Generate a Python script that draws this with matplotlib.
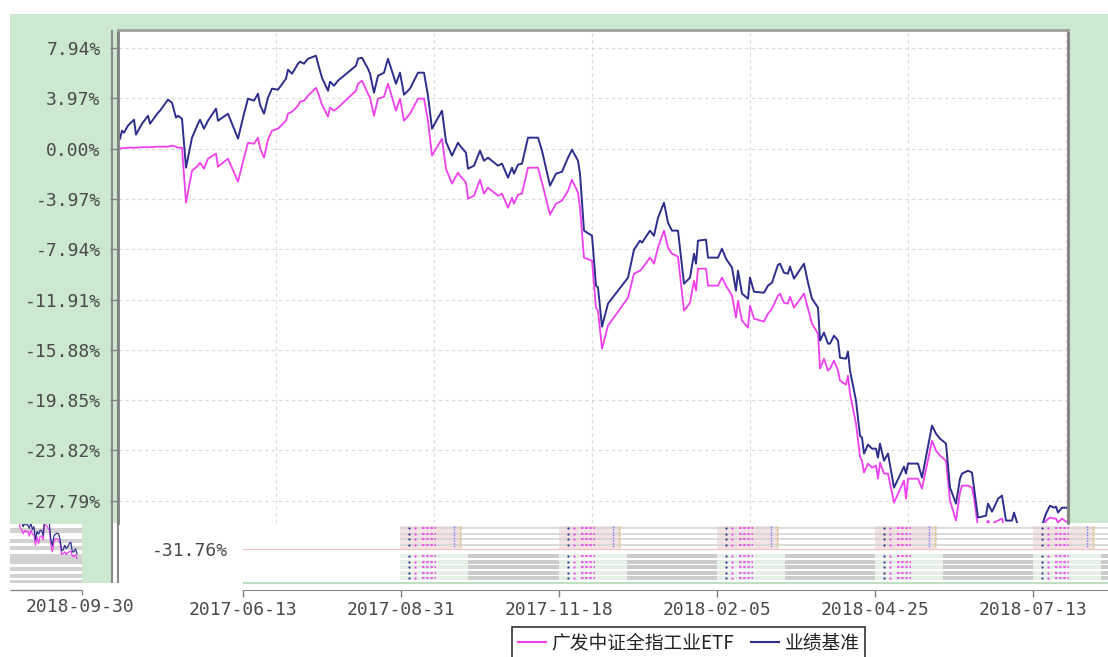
import matplotlib
matplotlib.use("Agg")
import matplotlib.pyplot as plt
import matplotlib.dates as mdates
from matplotlib.patches import Rectangle
from matplotlib.lines import Line2D
import pandas as pd

plt.rcParams["axes.unicode_minus"] = False

W, H, DPI = 1108, 657, 100

# cumulative return (%), fund vs benchmark
trade_dates = [
    "2017-03-27", "2017-03-28", "2017-03-29", "2017-03-31", "2017-04-03", "2017-04-04", "2017-04-07", "2017-04-10", "2017-04-11", "2017-04-15",
    "2017-04-16", "2017-04-20", "2017-04-22", "2017-04-24", "2017-04-25", "2017-04-27", "2017-04-29", "2017-05-02", "2017-05-05", "2017-05-06",
    "2017-05-08", "2017-05-10", "2017-05-14", "2017-05-15", "2017-05-20", "2017-05-25", "2017-05-28", "2017-05-30", "2017-06-02", "2017-06-04",
    "2017-06-05", "2017-06-07", "2017-06-09", "2017-06-11", "2017-06-14", "2017-06-18", "2017-06-19", "2017-06-21", "2017-06-24", "2017-06-25",
    "2017-06-27", "2017-06-29", "2017-07-03", "2017-07-04", "2017-07-06", "2017-07-09", "2017-07-10", "2017-07-12", "2017-07-14", "2017-07-23",
    "2017-07-24", "2017-07-26", "2017-07-29", "2017-07-30", "2017-08-01", "2017-08-03", "2017-08-06", "2017-08-08", "2017-08-12", "2017-08-14",
    "2017-08-16", "2017-08-19", "2017-08-23", "2017-08-26", "2017-08-28", "2017-08-30", "2017-09-04", "2017-09-06", "2017-09-09", "2017-09-12",
    "2017-09-13", "2017-09-16", "2017-09-17", "2017-09-20", "2017-09-23", "2017-09-25", "2017-09-27", "2017-10-02", "2017-10-04", "2017-10-07",
    "2017-10-09", "2017-10-10", "2017-10-12", "2017-10-14", "2017-10-17", "2017-10-22", "2017-10-24", "2017-10-28", "2017-10-31", "2017-11-03",
    "2017-11-06", "2017-11-08", "2017-11-11", "2017-11-12", "2017-11-14", "2017-11-18", "2017-11-20", "2017-11-21", "2017-11-23", "2017-11-26",
    "2017-12-06", "2017-12-09", "2017-12-12", "2017-12-13", "2017-12-17", "2017-12-19", "2017-12-21", "2017-12-24", "2017-12-26", "2017-12-28",
    "2017-12-31", "2018-01-03", "2018-01-06", "2018-01-08", "2018-01-09", "2018-01-10", "2018-01-14", "2018-01-15", "2018-01-20", "2018-01-22",
    "2018-01-24", "2018-01-27", "2018-01-29", "2018-01-30", "2018-02-01", "2018-02-04", "2018-02-05", "2018-02-07", "2018-02-12", "2018-02-14",
    "2018-02-16", "2018-02-19", "2018-02-20", "2018-02-22", "2018-02-24", "2018-02-25", "2018-02-27", "2018-03-04", "2018-03-06", "2018-03-08",
    "2018-03-11", "2018-03-12", "2018-03-14", "2018-03-16", "2018-03-17", "2018-03-19", "2018-03-21", "2018-03-22", "2018-03-25", "2018-03-26",
    "2018-03-27", "2018-03-30", "2018-04-01", "2018-04-02", "2018-04-03", "2018-04-05", "2018-04-07", "2018-04-09", "2018-04-10", "2018-04-11",
    "2018-04-13", "2018-04-15", "2018-04-18", "2018-04-23", "2018-04-24", "2018-04-25", "2018-04-30", "2018-05-02", "2018-05-07", "2018-05-09",
    "2018-05-11", "2018-05-14", "2018-05-16", "2018-05-19", "2018-05-21", "2018-05-22", "2018-05-25", "2018-05-27", "2018-05-28", "2018-05-30",
    "2018-06-03", "2018-06-04", "2018-06-06", "2018-06-07", "2018-06-09", "2018-06-11", "2018-06-13", "2018-06-16", "2018-06-17", "2018-06-19",
    "2018-06-23", "2018-06-28", "2018-07-01", "2018-07-03", "2018-07-05", "2018-07-07", "2018-07-08", "2018-07-09", "2018-07-11", "2018-07-13",
]

fund_ret = [
    0.00, 0.04, 0.04, 0.08, 0.08, 0.08, 0.12, 0.12, 0.12, 0.16,
    0.16, 0.16, 0.24, 0.16, 0.08, 0.08, -4.26, -1.74, -1.34, -1.11,
    -1.58, -0.79, -0.39, -1.42, -0.79, -2.60, -0.71, 0.47, 0.39, 0.87,
    0.08, -0.71, 0.71, 1.42, 1.58, 2.21, 2.76, 2.92, 3.39, 3.71,
    3.79, 4.18, 4.81, 4.42, 3.47, 2.53, 3.24, 3.00, 3.24, 4.58,
    5.13, 5.37, 4.34, 4.03, 2.60, 3.95, 4.10, 5.13, 3.00, 3.95,
    2.21, 2.76, 3.95, 3.95, 2.21, -0.55, 0.79, -1.58, -2.76, -1.89,
    -2.13, -2.68, -3.95, -3.71, -2.45, -3.55, -3.08, -3.71, -3.55, -4.66,
    -3.87, -4.34, -3.63, -3.55, -1.50, -1.50, -2.68, -5.21, -4.34, -4.10,
    -3.32, -2.45, -3.47, -4.66, -8.60, -8.84, -12.55, -12.79, -15.79, -13.97,
    -11.76, -9.87, -9.63, -9.47, -8.60, -9.08, -7.81, -6.47, -7.81, -8.29,
    -8.52, -12.79, -12.16, -10.42, -11.21, -9.47, -9.47, -10.81, -10.81, -10.18,
    -10.81, -11.60, -13.34, -12.00, -13.58, -14.13, -12.39, -13.42, -13.65, -13.02,
    -12.63, -11.60, -11.44, -12.16, -12.23, -11.68, -12.55, -11.44, -12.63, -13.81,
    -14.60, -17.36, -16.58, -17.52, -17.36, -16.73, -17.52, -18.31, -18.63, -17.92,
    -19.34, -21.71, -24.31, -24.63, -25.57, -24.86, -25.18, -25.02, -26.05, -24.78,
    -25.65, -25.65, -27.94, -26.20, -27.63, -26.05, -26.05, -26.84, -23.05, -23.84,
    -24.23, -24.63, -27.78, -29.36, -27.15, -26.60, -26.60, -26.76, -27.55, -29.91,
    -29.76, -29.36, -29.91, -29.52, -29.36, -29.20, -30.31, -30.31, -29.99, -30.78,
    -31.73, -31.57, -30.55, -29.36, -29.12, -29.20, -29.20, -29.52, -29.20, -29.44,
]

bench_ret = [
    0.79, 1.42, 1.26, 1.82, 2.29, 1.11, 1.97, 2.60, 1.97, 2.84,
    3.00, 3.87, 3.63, 2.45, 2.60, 2.37, -1.50, 0.87, 1.97, 2.29,
    1.58, 2.21, 3.16, 2.21, 2.76, 0.79, 2.76, 3.95, 3.79, 4.34,
    3.47, 2.76, 4.03, 4.74, 4.66, 5.53, 6.24, 5.92, 6.71, 6.87,
    6.71, 7.10, 7.34, 6.71, 5.60, 4.58, 5.29, 4.97, 5.37, 6.55,
    7.10, 7.18, 6.31, 5.92, 4.42, 5.76, 6.00, 7.10, 5.13, 6.00,
    4.26, 4.74, 6.00, 6.00, 4.18, 1.58, 3.00, 0.55, -0.55, 0.47,
    0.24, -0.32, -1.58, -1.34, -0.16, -0.95, -0.71, -1.34, -1.18, -2.29,
    -1.50, -1.97, -1.26, -1.18, 0.87, 0.87, -0.16, -2.92, -1.97, -1.82,
    -0.71, -0.08, -0.95, -1.97, -6.47, -6.87, -10.81, -10.97, -14.05, -12.23,
    -10.18, -7.97, -7.26, -7.42, -6.47, -6.87, -5.45, -4.26, -5.84, -6.47,
    -6.47, -10.66, -10.18, -8.29, -9.08, -7.26, -7.18, -8.60, -8.60, -7.89,
    -8.68, -9.39, -11.21, -9.63, -11.44, -11.84, -10.18, -11.29, -11.37, -10.81,
    -10.58, -9.16, -9.08, -9.79, -9.87, -9.31, -10.26, -9.08, -10.58, -11.84,
    -12.55, -15.15, -14.52, -15.39, -15.39, -14.76, -15.15, -16.50, -16.58, -16.02,
    -17.52, -19.89, -22.65, -22.81, -24.07, -23.36, -23.68, -23.68, -24.39, -23.28,
    -24.63, -24.07, -26.76, -25.10, -25.65, -24.86, -24.86, -25.97, -21.86, -22.50,
    -22.89, -23.28, -26.76, -28.02, -26.05, -25.65, -25.42, -25.57, -26.76, -29.12,
    -28.97, -28.02, -28.65, -28.34, -27.63, -27.39, -29.36, -29.36, -28.73, -29.76,
    -30.94, -30.78, -29.76, -28.81, -28.18, -28.34, -28.26, -28.73, -28.34, -28.34,
]

series_names = ["广发中证全指工业ETF", "业绩基准"]
ytick_vals = [7.94, 3.97, 0.00, -3.97, -7.94, -11.91, -15.88, -19.85, -23.82, -27.79]
xtick_dates = ["2017-06-13", "2017-08-31", "2017-11-18", "2018-02-05", "2018-04-25", "2018-07-13"]
floor_val = -31.76
stray_label = "2018-09-30"

FUND_C = "#EE40EE"
BENCH_C = "#2E2E8C"
GREEN = "#CCE8CF"
TICK_FONT = "DejaVu Sans Mono"
TEXT_C = "#4a4a4a"


def px(x0, y0, x1, y1):
    # pixel box (top-left origin) -> figure fraction
    return [x0 / W, 1 - y1 / H, (x1 - x0) / W, (y1 - y0) / H]


dates = pd.to_datetime(trade_dates)
ticks = pd.to_datetime(xtick_dates)

fig = plt.figure(figsize=(W / DPI, H / DPI), dpi=DPI)

# background panel + the garbled strip under the plot
bg = fig.add_axes([0, 0, 1, 1], zorder=-1)
bg.set_xlim(0, W)
bg.set_ylim(H, 0)
bg.axis("off")
bg.add_patch(Rectangle((10, 14), W - 10, 509, color=GREEN, lw=0))
bg.add_patch(Rectangle((10, 523), 102, 60, color=GREEN, lw=0))
bg.vlines([112, 118], 30, 583, color="#8a8a8a", lw=1.5)

# thumbnail junk at lower left
bg.add_patch(Rectangle((10, 524), 72, 59, color="white", lw=0))
for y0, hh in [(528, 5), (539, 4), (546, 4), (554, 10), (567, 4), (574, 4), (580, 3)]:
    bg.add_patch(Rectangle((10, y0), 72, hh, color="#d2d2d2", lw=0))

blocks = [400, 559, 717, 875, 1033]
upper_rows = [528, 533.5, 539, 544.5]
lower_rows = [556, 561.5, 567, 572.5, 578]
bg.hlines(upper_rows, 400, W, color="#d4d4d4", lw=1.2)
for y in lower_rows:
    bg.add_patch(Rectangle((400, y - 2), W - 400, 4, color="#cbcbcb", lw=0))
for xs in blocks:
    bg.add_patch(Rectangle((xs, 525.5), 62, 23, color="#f5e3e3", lw=0))
    for y in lower_rows:
        bg.add_patch(Rectangle((xs, y - 2), 68, 4, color="#e6efe6", lw=0))
    for y in upper_rows + lower_rows:
        bg.plot([xs + 9], [y], "s", ms=1.4, color=BENCH_C, mew=0)
        bg.plot([xs + 15], [y], "s", ms=1.4, color=FUND_C, mew=0)
        bg.hlines(y, xs + 22, xs + 36, color=FUND_C, lw=1.2, linestyles=(0, (1.5, 1)))
    bg.vlines(xs + 54, 526, 548, color="#7a7aff", lw=1, linestyles=(0, (1, 1)))
    bg.vlines(xs + 60, 526, 548, color="#d8c060", lw=1, linestyles=(0, (1, 1)))
bg.hlines(583, 243, W, color="#bfe0c0", lw=1.5)

# stray tick on the left
bg.hlines(590, 10, 82, color="#8a8a8a", lw=1)
bg.vlines(82, 590, 595, color="#8a8a8a", lw=1)
bg.text(80, 607, stray_label, ha="center", va="center", fontsize=13,
        family=TICK_FONT, color=TEXT_C)
bg.add_patch(Rectangle((133, 595), 22, 24, color="white", lw=0, zorder=5))

# main plot
ax = fig.add_axes(px(118, 30, 1068, 523))
ax.set_facecolor("white")
ax.plot(dates, fund_ret, color=FUND_C, lw=1.3)
ax.plot(dates, bench_ret, color=BENCH_C, lw=1.4)
ax.set_xlim(pd.Timestamp("2017-03-26"), pd.Timestamp("2018-07-14"))
ax.set_ylim(-29.55, 9.37)
ax.set_yticks(ytick_vals)
ax.set_yticklabels([f"{v:.2f}%" for v in ytick_vals], family=TICK_FONT)
ax.set_xticks(ticks)
ax.tick_params(axis="x", length=0, labelbottom=False)
ax.tick_params(axis="y", length=6, width=1, color="#808080", pad=6.5,
               labelsize=13, labelcolor=TEXT_C)
ax.grid(True, ls=(0, (3, 3)), color="#dadada", lw=0.8)
ax.spines["bottom"].set_visible(False)
for side, c in [("left", "#808080"), ("top", "#a0a0a0"), ("right", "#808080")]:
    ax.spines[side].set_color(c)
    ax.spines[side].set_linewidth(2)

# small copy of the lines inside the thumbnail
ix = fig.add_axes(px(14, 524, 80, 562))
ix.axis("off")
ix.plot(range(len(fund_ret[150:190])), fund_ret[150:190], color=FUND_C, lw=0.9)
ix.plot(range(len(bench_ret[150:190])), bench_ret[150:190], color=BENCH_C, lw=0.9)
ix.set_ylim(-31.5, -23.5)

# bottom date axis with the floor line
bx = fig.add_axes(px(243, 523, W, 590))
bx.patch.set_alpha(0)
bx.set_xlim(pd.Timestamp("2017-06-13"), pd.Timestamp("2017-06-13") + pd.Timedelta(days=432.5))
bx.set_ylim(-34.96, -29.67)
bx.axhline(floor_val, color="#efc4c4", lw=0.9)
bx.set_yticks([floor_val])
bx.set_yticklabels([f"{floor_val:.2f}%"], family=TICK_FONT)
bx.set_xticks(ticks)
bx.xaxis.set_major_formatter(mdates.DateFormatter("%Y-%m-%d"))
for lab in bx.get_xticklabels():
    lab.set_family(TICK_FONT)
bx.tick_params(axis="y", length=0, pad=11, labelsize=13, labelcolor=TEXT_C)
bx.tick_params(axis="x", length=5, width=1, color="#808080", pad=3,
               labelsize=13, labelcolor=TEXT_C)
for side in ["left", "right", "top"]:
    bx.spines[side].set_visible(False)
bx.spines["bottom"].set_color("#8a8a8a")

handles = [Line2D([], [], color=FUND_C, lw=1.5), Line2D([], [], color=BENCH_C, lw=1.5)]
leg = fig.legend(handles, series_names, loc="upper left",
                 bbox_to_anchor=(512 / W, 1 - 627 / H), ncol=2, frameon=True,
                 fancybox=False, edgecolor="black",
                 prop={"family": ["Noto Sans CJK SC", "DejaVu Sans"], "size": 13.5},
                 handlelength=1.5, handletextpad=0.3, columnspacing=0.9,
                 borderpad=0.3, borderaxespad=0)
leg.get_frame().set_linewidth(1.2)
for t in leg.get_texts():
    t.set_color("#222222")

fig.savefig("out.png", dpi=DPI)
